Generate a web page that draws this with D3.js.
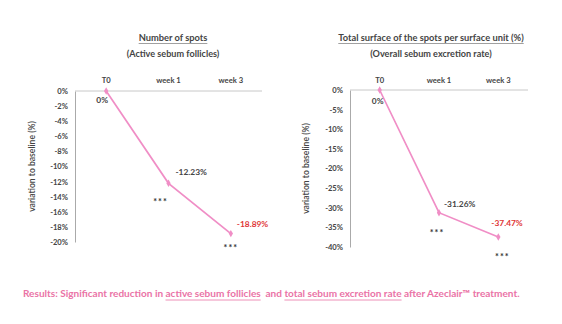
<!DOCTYPE html>
<html><head><meta charset="utf-8">
<script src="https://cdn.jsdelivr.net/npm/d3@7"></script>
<style>body{margin:0;background:#fff}svg{display:block}text{font-family:Lato,"Open Sans",sans-serif}</style>
</head><body>
<svg id="c" width="562" height="324"></svg>
<script>
const categories = ["T0", "week 1", "week 3"];
const spotsValues = [0, -12.23, -18.89];
const surfaceValues = [0, -31.26, -37.47];
const spotsTicks = [0, -2, -4, -6, -8, -10, -12, -14, -16, -18, -20];
const surfaceTicks = [0, -5, -10, -15, -20, -25, -30, -35, -40];
const spotsTitle = ["Number of spots", "(Active sebum follicles)"];
const surfaceTitle = ["Total surface of the spots per surface unit (%)", "(Overall sebum excretion rate)"];
const spotsLabels = ["0%", "-12.23%", "-18.89%"];
const surfaceLabels = ["0%", "-31.26%", "-37.47%"];
const significance = ["", "***", "***"];
const yTitle = "variation to baseline (%)";
const footerParts = [
  {t: "Results: Significant reduction in ", u: false},
  {t: "active sebum follicles", u: true},
  {t: "\u00a0 and ", u: false},
  {t: "total sebum excretion rate", u: true},
  {t: " after Azeclair\u2122 treatment.", u: false}
];

const svg = d3.select("#c");
const LINE = "#f08ec6", TXT = "#444", RED = "#e03636", PINK = "#ea73a6";

function chart(o) {
  const g = svg.append("g");
  const x = d3.scaleBand().domain(categories).range([o.x0, o.x1]);
  const y = d3.scaleLinear().domain([o.min, 0]).range([o.y1, o.y0]);
  const cx = o.tx;
  const t1 = g.append("text").attr("x", cx).attr("y", 41).attr("text-anchor", "middle")
    .attr("font-size", 9.3).attr("font-weight", 700).attr("fill", TXT).text(o.title[0]);
  const w = t1.node().getComputedTextLength();
  g.append("line").attr("x1", cx - w/2).attr("x2", cx + w/2).attr("y1", 43.5).attr("y2", 43.5)
    .attr("stroke", "#777").attr("stroke-width", 0.7);
  g.append("text").attr("x", cx).attr("y", 57).attr("text-anchor", "middle")
    .attr("font-size", 9.1).attr("font-weight", 700).attr("fill", TXT).text(o.title[1]);
  g.append("g").selectAll("text").data(categories).join("text")
    .attr("x", d => x(d) + x.bandwidth()/2).attr("y", 82.5).attr("text-anchor", "middle")
    .attr("font-size", 7.6).attr("font-weight", 700).attr("fill", TXT).text(d => d);
  const ya = g.append("g").attr("transform", `translate(${o.x0},0)`)
    .call(d3.axisLeft(y).tickValues(o.ticks).tickSize(0).tickPadding(7).tickFormat(d => d + "%"));
  ya.select(".domain").attr("stroke", "#aaa");
  ya.selectAll("text").attr("font-size", 7.6).attr("font-weight", 700).attr("fill", TXT)
    .style("font-family", "Lato,sans-serif");
  g.append("line").attr("x1", o.x0).attr("x2", o.x1).attr("y1", y(0)).attr("y2", y(0))
    .attr("stroke", "#c8c8c8").attr("stroke-width", 1);
  g.append("text").attr("transform", `translate(${o.ytx},${(o.y0 + o.y1)/2}) rotate(-90)`)
    .attr("text-anchor", "middle").attr("font-size", 8.6).attr("font-weight", 600).attr("fill", TXT).text(yTitle);
  const pts = categories.map((c, i) => [x(c) + x.bandwidth()/2, y(o.values[i])]);
  g.append("path").attr("d", d3.line()(pts)).attr("fill", "none").attr("stroke", LINE).attr("stroke-width", 1.7);
  g.selectAll(".m").data(pts).join("path").attr("class", "m")
    .attr("transform", d => `translate(${d[0]},${d[1]})`)
    .attr("d", d3.symbol(d3.symbolDiamond, 16)).attr("fill", LINE);
  o.values.forEach((v, i) => {
    const p = pts[i];
    const off = o.labelOff[i];
    g.append("text").attr("x", p[0] + off[0]).attr("y", p[1] + off[1])
      .attr("font-size", 8.4).attr("font-weight", 700).attr("text-anchor", i === 0 ? "middle" : "start")
      .attr("fill", i === 2 ? RED : TXT).text(o.labels[i]);
    if (significance[i]) {
      g.append("text").attr("x", p[0] + o.sigOff[i][0]).attr("y", p[1] + o.sigOff[i][1])
        .attr("text-anchor", "middle").attr("font-size", 9).attr("font-weight", 700)
        .attr("letter-spacing", 1).attr("fill", "#333").text(significance[i]);
    }
  });
}

chart({x0: 75, x1: 262, y0: 91, y1: 242, min: -20, ticks: spotsTicks, values: spotsValues,
  title: spotsTitle, tx: 173, ytx: 35, labels: spotsLabels,
  labelOff: [[-4, 12], [7, -8], [6, -7]], sigOff: [null, [-8, 22], [0, 17]]});
chart({x0: 350, x1: 528, y0: 90, y1: 247, min: -40, ticks: surfaceTicks, values: surfaceValues,
  title: surfaceTitle, tx: 431, ytx: 309, labels: surfaceLabels,
  labelOff: [[-2, 14], [5, -6], [-7, -11]], sigOff: [null, [-2, 23], [4, 23]]});

// footer, sized to span the same width as the reference line
const ft = svg.append("text").attr("x", 23).attr("y", 297).attr("font-size", 10)
  .attr("font-weight", 700).attr("fill", PINK);
footerParts.forEach(p => ft.append("tspan").text(p.t));
const len = ft.node().getComputedTextLength();
ft.attr("font-size", 10 * 497 / len);
const full = ft.node().textContent;
footerParts.filter(p => p.u).forEach(p => {
  const idx = full.indexOf(p.t);
  const s = ft.node().getStartPositionOfChar(idx).x;
  const e = ft.node().getEndPositionOfChar(idx + p.t.length - 1).x;
  svg.append("line").attr("x1", s).attr("x2", e).attr("y1", 300).attr("y2", 300)
    .attr("stroke", PINK).attr("stroke-width", 0.8);
});
</script>
</body></html>
